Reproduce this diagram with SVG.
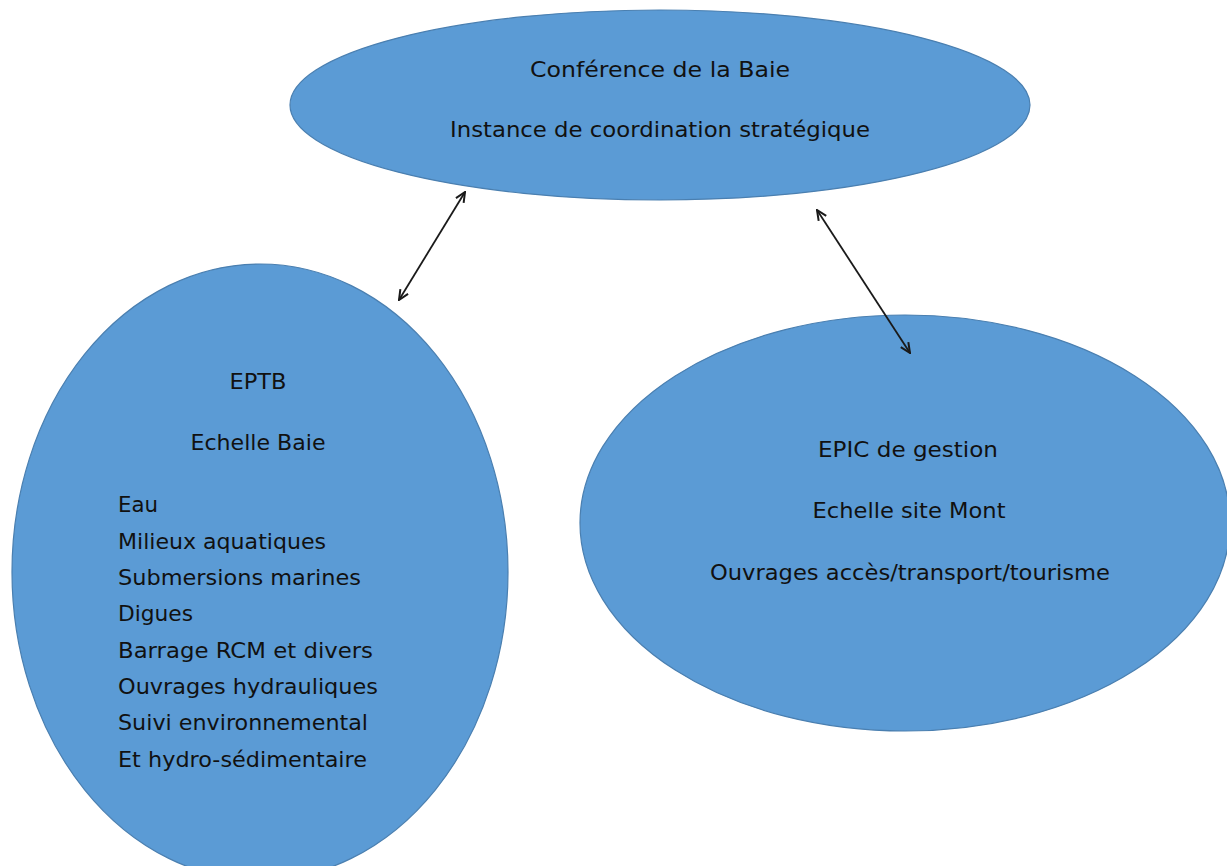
<svg xmlns="http://www.w3.org/2000/svg" width="1227" height="866" viewBox="0 0 1227 866">
<style>
.node{fill:#5b9bd5;stroke:#4a7fb0;stroke-width:1.2}
.t{font-family:"DejaVu Sans","Liberation Sans",sans-serif;font-size:22px;fill:#111}
.c{text-anchor:middle}
.conn{stroke:#1a1a1a;stroke-width:1.8;fill:none;marker-start:url(#ah);marker-end:url(#ah)}
</style>
<defs>
<marker id="ah" viewBox="0 0 12 12" refX="11" refY="6" markerWidth="12" markerHeight="12" orient="auto-start-reverse" markerUnits="userSpaceOnUse">
<path d="M1,1.5 L11,6 L1,10.5" fill="none" stroke="#1a1a1a" stroke-width="2"/>
</marker>
</defs>
<rect width="1227" height="866" fill="#ffffff"/>
<g id="conference">
<ellipse class="node" cx="660" cy="105" rx="370" ry="95"/>
<text class="t c" x="660" y="77" textLength="260" lengthAdjust="spacingAndGlyphs">Conférence de la  Baie</text>
<text class="t c" x="660" y="137" textLength="420" lengthAdjust="spacingAndGlyphs">Instance de coordination  stratégique</text>
</g>
<g id="eptb">
<ellipse class="node" cx="260" cy="572" rx="248" ry="308"/>
<text class="t c" x="258" y="389" textLength="57" lengthAdjust="spacingAndGlyphs">EPTB</text>
<text class="t c" x="258" y="450" textLength="135" lengthAdjust="spacingAndGlyphs">Echelle Baie</text>
<text class="t" x="118" y="512" textLength="40" lengthAdjust="spacingAndGlyphs">Eau</text>
<text class="t" x="118" y="549" textLength="208" lengthAdjust="spacingAndGlyphs">Milieux aquatiques</text>
<text class="t" x="118" y="585" textLength="243" lengthAdjust="spacingAndGlyphs">Submersions marines</text>
<text class="t" x="118" y="621" textLength="75" lengthAdjust="spacingAndGlyphs">Digues</text>
<text class="t" x="118" y="658" textLength="255" lengthAdjust="spacingAndGlyphs">Barrage RCM et divers</text>
<text class="t" x="118" y="694" textLength="260" lengthAdjust="spacingAndGlyphs">Ouvrages hydrauliques</text>
<text class="t" x="118" y="730" textLength="250" lengthAdjust="spacingAndGlyphs">Suivi environnemental</text>
<text class="t" x="118" y="767" textLength="249" lengthAdjust="spacingAndGlyphs">Et hydro-sédimentaire</text>
</g>
<g id="epic">
<ellipse class="node" cx="905" cy="523" rx="325" ry="208"/>
<text class="t c" x="908" y="457" textLength="180" lengthAdjust="spacingAndGlyphs">EPIC de  gestion</text>
<text class="t c" x="909" y="518" textLength="193" lengthAdjust="spacingAndGlyphs">Echelle site Mont</text>
<text class="t c" x="910" y="580" textLength="400" lengthAdjust="spacingAndGlyphs">Ouvrages accès/transport/tourisme</text>
</g>
<g id="connectors">
<line class="conn" x1="465" y1="192" x2="399" y2="300"/>
<line class="conn" x1="817" y1="210" x2="910" y2="353"/>
</g>
</svg>
